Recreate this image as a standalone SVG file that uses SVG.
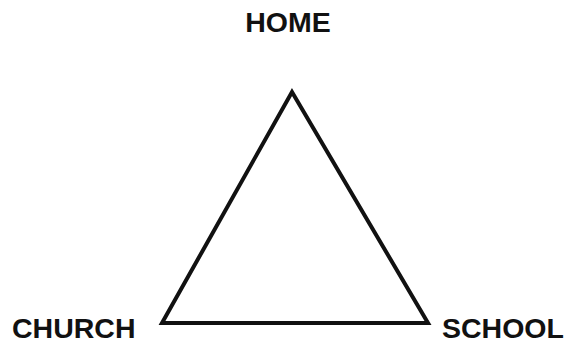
<svg xmlns="http://www.w3.org/2000/svg" width="569" height="344" viewBox="0 0 569 344">
<style>
.lbl{font-family:"Liberation Sans",Arial,sans-serif;font-weight:bold;font-size:28.5px;fill:#111}
.edge{fill:none;stroke:#111;stroke-width:4;stroke-linejoin:miter}
</style>
<rect width="569" height="344" fill="#fff"/>
<g id="connectors">
<path class="edge" d="M292,92 L428,323 L162,323 Z"/>
</g>
<g id="home"><text class="lbl" x="288" y="32" text-anchor="middle">HOME</text></g>
<g id="church"><text class="lbl" x="12" y="338">CHURCH</text></g>
<g id="school"><text class="lbl" x="442" y="338">SCHOOL</text></g>
</svg>
